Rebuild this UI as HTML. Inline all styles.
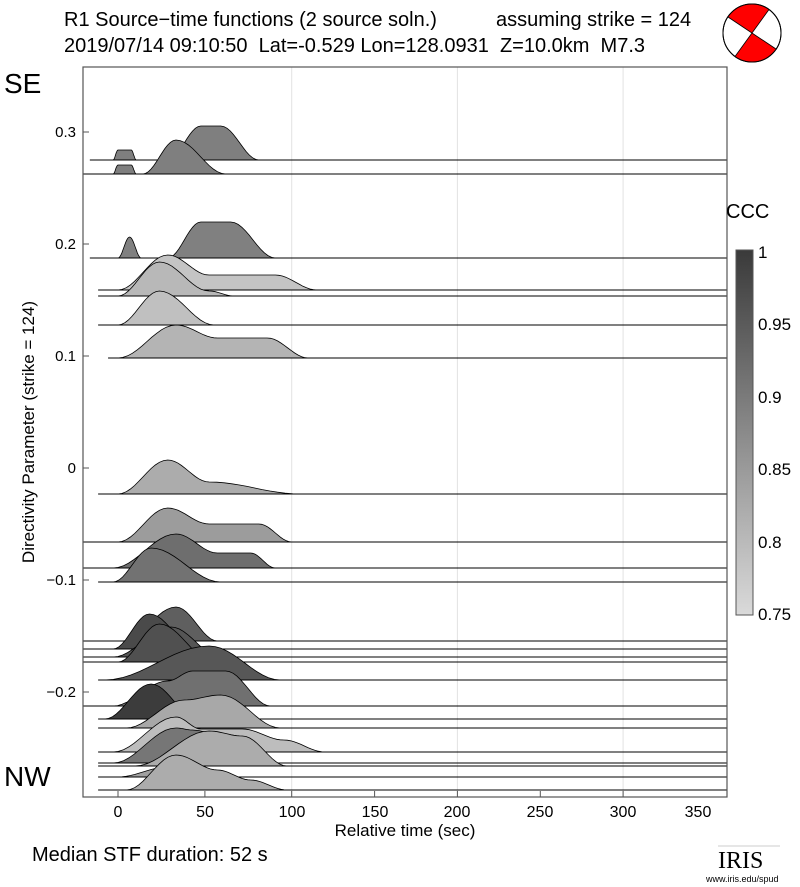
<!DOCTYPE html>
<html><head><meta charset="utf-8"><style>
body{margin:0;background:#fff;}
svg{display:block;font-family:"Liberation Sans",sans-serif;}
text{white-space:pre;}
</style></head><body>
<svg id="s" width="800" height="887" viewBox="0 0 800 887">
<defs><linearGradient id="cb" x1="0" y1="0" x2="0" y2="1">
<stop offset="0" stop-color="#3a3a3a"/><stop offset="0.5" stop-color="#8a8a8a"/><stop offset="1" stop-color="#dadada"/></linearGradient></defs>
<text x="64" y="26" font-size="20">R1 Source−time functions (2 source soln.)</text>
<text x="496" y="26" font-size="20">assuming strike = 124</text>
<text x="64" y="52" font-size="20">2019/07/14 09:10:50  Lat=-0.529 Lon=128.0931  Z=10.0km  M7.3</text>
<g transform="translate(752,33)">
<circle r="29" fill="#fff" stroke="#000" stroke-width="1"/>
<path d="M0,0 L-24,-16 A29,29 0 0 1 17,-23.5 Z" fill="#f00"/>
<path d="M0,0 L24,16 A29,29 0 0 1 -17,23.5 Z" fill="#f00"/>
<path d="M-24,-16 L24,16 M17,-23.5 L-17,23.5" stroke="#000" stroke-width="0.8"/>
<circle r="29" fill="none" stroke="#000" stroke-width="1"/>
</g>
<g stroke="#e2e2e2" stroke-width="1">
<line x1="291.7" y1="67" x2="291.7" y2="797"/><line x1="457.4" y1="67" x2="457.4" y2="797"/><line x1="623.1" y1="67" x2="623.1" y2="797"/>
</g>
<g id="tr"></g>
<rect x="83" y="67" width="644" height="730" fill="none" stroke="#555" stroke-width="1.2"/>
<g stroke="#555" stroke-width="1">
<line x1="118" y1="797" x2="118" y2="791"/><line x1="204.9" y1="797" x2="204.9" y2="791"/><line x1="291.7" y1="797" x2="291.7" y2="791"/><line x1="374.6" y1="797" x2="374.6" y2="791"/><line x1="457.4" y1="797" x2="457.4" y2="791"/><line x1="540.3" y1="797" x2="540.3" y2="791"/><line x1="623.1" y1="797" x2="623.1" y2="791"/>
<line x1="83" y1="132" x2="89" y2="132"/><line x1="83" y1="244" x2="89" y2="244"/><line x1="83" y1="356" x2="89" y2="356"/><line x1="83" y1="468" x2="89" y2="468"/><line x1="83" y1="580" x2="89" y2="580"/><line x1="83" y1="692" x2="89" y2="692"/>
</g>
<g font-size="16" text-anchor="middle">
<text x="118" y="817">0</text><text x="205" y="817">50</text><text x="292" y="817">100</text><text x="375" y="817">150</text><text x="457" y="817">200</text><text x="540" y="817">250</text><text x="623" y="817">300</text><text x="698" y="817">350</text>
</g>
<text x="405" y="836" font-size="17" text-anchor="middle">Relative time (sec)</text>
<g font-size="15" text-anchor="end">
<text x="76" y="137">0.3</text><text x="76" y="249">0.2</text><text x="76" y="361">0.1</text><text x="76" y="473">0</text><text x="76" y="585">−0.1</text><text x="76" y="697">−0.2</text>
</g>
<text transform="translate(34,432) rotate(-90)" font-size="17" text-anchor="middle">Directivity Parameter (strike = 124)</text>
<text x="4" y="93" font-size="28">SE</text>
<text x="4" y="786" font-size="28">NW</text>
<text x="726" y="218" font-size="20">CCC</text>
<rect x="736" y="250" width="17" height="365" fill="url(#cb)" stroke="#555" stroke-width="1"/>
<g font-size="17">
<text x="758" y="258">1</text><text x="758" y="330">0.95</text><text x="758" y="403">0.9</text><text x="758" y="475">0.85</text><text x="758" y="548">0.8</text><text x="758" y="620">0.75</text>
</g>
<text x="32" y="861" font-size="20">Median STF duration: 52 s</text>
<text x="718" y="868" font-size="24" font-family="Liberation Serif,serif">IRIS</text>
<line x1="718" y1="846" x2="780" y2="846" stroke="#999" stroke-width="0.6"/>
<text x="706" y="882" font-size="9">www.iris.edu/spud</text>
</svg>
<script>
var T=[
[160,-17,'#7f7f7f',[[-3,0],[0,10],[8,10],[11,0],[30,0],[50,34],[62,34],[85,0]]],
[174,-21,'#7f7f7f',[[-3,0],[0,9],[8,9],[11,0],[15,0],[35,34],[65,0]]],
[258,-17,'#808080',[[0,0],[7,21],[14,0],[30,0],[50,36],[68,36],[95,0]]],
[290,-12,'#c4c4c4',[[0,0],[30,35],[55,15],[95,15],[120,0]]],
[296,-12,'#b8b8b8',[[0,0],[25,34],[55,5],[70,0]]],
[325,-12,'#c0c0c0',[[0,0],[25,34],[58,0]]],
[358,-6,'#b4b4b4',[[0,0],[35,33],[60,20],[90,20],[115,0]]],
[494,-12,'#acacac',[[0,0],[30,34],[55,12],[110,0]]],
[542,-21,'#9c9c9c',[[0,0],[30,34],[55,18],[85,18],[105,0]]],
[568,-21,'#6e6e6e',[[-3,0],[35,34],[60,15],[80,15],[95,0]]],
[582,-12,'#727272',[[-3,0],[20,34],[62,0]]],
[641,-21,'#5f5f5f',[[3,0],[35,34],[60,0]]],
[649,-21,'#4a4a4a',[[-3,0],[19,35],[48,0]]],
[657,-21,'#555555',[[-3,0],[32,30],[62,0]]],
[662,-21,'#505050',[[0,0],[25,38],[58,0]]],
[680,-12,'#575757',[[-8,0],[55,34],[98,0]]],
[706,-21,'#707070',[[-3,0],[30,25],[45,35],[65,35],[92,0]]],
[719,-12,'#3c3c3c',[[-8,0],[20,35],[48,0]]],
[728,-12,'#a8a8a8',[[5,0],[40,28],[62,33],[98,0]]],
[752,-12,'#bdbdbd',[[-3,0],[35,35],[50,23],[75,23],[100,12],[125,0]]],
[763,-12,'#767676',[[-3,0],[35,35],[45,33],[92,0]]],
[766,-12,'#acacac',[[10,0],[55,35],[75,30],[102,0]]],
[777,-12,'#a0a0a0',[[0,0],[30,10],[50,0]]],
[790,-12,'#acacac',[[5,0],[35,35],[60,20],[80,10],[102,0]]]
];
function X(t){return 118+t*1.657;}
var g=document.getElementById('tr'),h='';
T.forEach(function(r){
 var b=r[0],p=r[3],pts=[];
 for(var i=0;i<p.length-1;i++){
  var a=p[i],c=p[i+1];
  for(var k=0;k<12;k++){var f=k/12,m=(1-Math.cos(Math.PI*f))/2;pts.push([X(a[0]+(c[0]-a[0])*f),b-(a[1]+(c[1]-a[1])*m)]);}
 }
 var l=p[p.length-1];pts.push([X(l[0]),b-l[1]]);
 var d='M'+pts.map(function(q){return q[0].toFixed(1)+','+q[1].toFixed(1)}).join(' L');
 h+='<path d="'+d+' Z" fill="'+r[2]+'"/>';
 h+='<path d="'+d+'" fill="none" stroke="#000" stroke-width="0.8"/>';
 h+='<line x1="'+X(r[1])+'" y1="'+b+'" x2="727" y2="'+b+'" stroke="#000" stroke-width="1"/>';
});
g.innerHTML=h;
</script>
</body></html>
